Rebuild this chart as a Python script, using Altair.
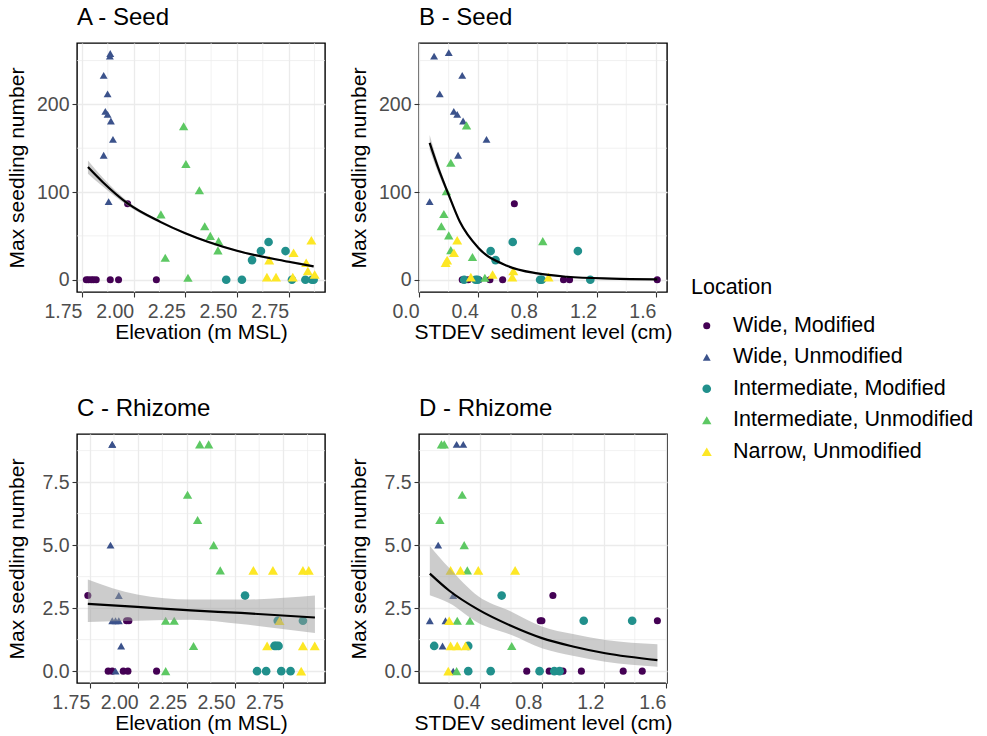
import altair as alt
import pandas as pd

FONT = "Liberation Sans"

groups = ["Wide, Modified", "Wide, Unmodified", "Intermediate, Modified",
          "Intermediate, Unmodified", "Narrow, Unmodified"]
colors = ["#440154", "#3B528B", "#21908C", "#5DC863", "#FDE725"]
shapes = ["circle", "triangle-up", "circle", "triangle-up", "triangle-up"]
point_sizes = [50, 100, 50, 100, 100]

# ---------------- Panel A : Elevation vs seed ----------------
A_X = {
    "Wide, Modified": [1.771, 1.782, 1.795, 1.806, 1.819, 1.887, 1.927, 2.110, 1.971],
    "Wide, Unmodified": [1.887, 1.885, 1.855, 1.874, 1.863, 1.874, 1.890, 1.900, 1.855, 1.879],
    "Intermediate, Modified": [2.653, 2.616, 2.735, 2.573, 2.448, 2.524, 2.766, 2.831, 2.863, 2.871],
    "Intermediate, Unmodified": [2.242, 2.253, 2.318, 2.132, 2.344, 2.371, 2.411, 2.408, 2.153, 2.263],
    "Narrow, Unmodified": [2.860, 2.774, 2.656, 2.835, 2.843, 2.876, 2.645, 2.689, 2.770],
}
A_Y = {
    "Wide, Modified": [0, 0, 0, 0, 0, 0, 0, 0, 86.7],
    "Wide, Unmodified": [258, 255, 233, 212, 192, 188.6, 181, 160, 142, 89],
    "Intermediate, Modified": [43, 32.7, 32.7, 22.4, 0, 0, 0, 0, 0, 0],
    "Intermediate, Unmodified": [175, 132, 102, 74.5, 61, 50, 44, 33.5, 25, 2.3],
    "Narrow, Unmodified": [45, 30.8, 22.4, 19.4, 10, 6, 3, 3, 3],
}
A_FIT_X = [1.779, 1.85, 1.971, 2.129, 2.25, 2.5, 2.75, 2.871]
A_FIT_Y = [128.5, 111.5, 87, 66, 53, 33, 20.5, 15.2]
A_FIT_LO = [121, 106.5, 84.5, 64.5, 51.8, 31.8, 19.3, 14]
A_FIT_HI = [136, 116.5, 89.5, 67.5, 54.2, 34.3, 21.8, 16.5]

# ---------------- Panel B : STDEV sediment vs seed ----------------
B_X = {
    "Wide, Modified": [0.292, 0.332, 0.405, 0.479, 0.565, 0.976, 1.017, 1.609, 0.644],
    "Wide, Unmodified": [0.102, 0.201, 0.292, 0.140, 0.235, 0.258, 0.298, 0.456, 0.264, 0.072],
    "Intermediate, Modified": [0.633, 0.484, 1.073, 0.517, 0.305, 0.382, 0.396, 0.818, 0.829, 1.157],
    "Intermediate, Unmodified": [0.321, 0.215, 0.185, 0.168, 0.151, 0.201, 0.836, 0.215, 0.361, 0.445],
    "Narrow, Unmodified": [0.258, 0.236, 0.190, 0.180, 0.637, 0.497, 0.630, 0.350, 0.875],
}
B_Y = {
    "Wide, Modified": [0, 0, 0, 0, 0, 0, 0, 0, 86.7],
    "Wide, Unmodified": [255, 259, 233, 212, 192, 188.6, 181, 160, 142, 89],
    "Intermediate, Modified": [43, 32.7, 32.7, 22.4, 0, 0, 0, 0, 0, 0],
    "Intermediate, Unmodified": [176, 133.5, 101, 75, 61, 50.6, 44, 33.8, 26, 2.3],
    "Narrow, Unmodified": [45, 30.8, 22.4, 19.4, 10, 6, 3, 3, 3],
}
B_FIT_X = [0.072, 0.129, 0.2, 0.276, 0.4, 0.599, 0.8, 1.0, 1.3, 1.609]
B_FIT_Y = [156, 127.8, 97, 66, 36.5, 15.6, 7.2, 3.4, 1.2, 0.4]
B_FIT_LO = [148, 122, 94, 64.5, 35.5, 15, 6.8, 3.1, 1.0, 0.3]
B_FIT_HI = [165, 133, 100, 67.5, 37.5, 16.2, 7.6, 3.7, 1.4, 0.5]

# ---------------- Panel C : Elevation vs rhizome ----------------
C_X = {
    "Wide, Modified": [1.740, 1.940, 1.952, 1.845, 1.866, 1.923, 1.947, 2.095],
    "Wide, Unmodified": [1.866, 1.866, 1.857, 1.900, 1.866, 1.883, 1.900, 1.912, 1.883],
    "Intermediate, Modified": [2.552, 2.721, 2.851, 2.704, 2.713, 2.725, 2.614, 2.661, 2.739, 2.787],
    "Intermediate, Unmodified": [2.318, 2.364, 2.255, 2.307, 2.390, 2.424, 2.142, 2.186, 2.286, 2.142],
    "Narrow, Unmodified": [2.595, 2.696, 2.851, 2.881, 2.666, 2.851, 2.912, 2.730, 2.842],
}
C_Y = {
    "Wide, Modified": [3, 2, 2, 0, 0, 0, 0, 0],
    "Wide, Unmodified": [9, 9, 5, 3, 2, 2, 2, 1, 0],
    "Intermediate, Modified": [3, 2, 2, 1, 1, 1, 0, 0, 0, 0],
    "Intermediate, Unmodified": [9, 9, 7, 6, 5, 4, 2, 2, 1, 0],
    "Narrow, Unmodified": [4, 4, 4, 4, 1, 1, 1, 2, 0],
}
C_FIT_X = [1.740, 1.995, 2.272, 2.531, 2.913]
C_FIT_Y = [2.67, 2.55, 2.41, 2.31, 2.13]
C_FIT_LO = [1.95, 2.00, 2.04, 1.87, 1.51]
C_FIT_HI = [3.64, 3.04, 2.84, 2.84, 3.00]

# ---------------- Panel D : STDEV sediment vs rhizome ----------------
D_X = {
    "Wide, Modified": [0.871, 0.789, 0.800, 1.546, 0.702, 0.847, 0.936, 1.055, 1.325, 1.448],
    "Wide, Unmodified": [0.249, 0.292, 0.130, 0.227, 0.076, 0.177, 0.158, 0.227],
    "Intermediate, Modified": [0.540, 1.070, 1.383, 0.104, 0.324, 0.324, 0.469, 0.785, 0.880, 0.914],
    "Intermediate, Unmodified": [0.151, 0.169, 0.285, 0.141, 0.298, 0.318, 0.253, 0.335, 0.605, 0.249],
    "Narrow, Unmodified": [0.210, 0.274, 0.389, 0.627, 0.201, 0.210, 0.253, 0.307, 0.195],
}
D_Y = {
    "Wide, Modified": [3, 2, 2, 2, 0, 0, 0, 0, 0, 0],
    "Wide, Unmodified": [9, 9, 5, 3, 2, 2, 1, 0],
    "Intermediate, Modified": [3, 2, 2, 1, 1, 0, 0, 0, 0, 0],
    "Intermediate, Unmodified": [9, 9, 7, 6, 5, 4, 2, 2, 1, 0],
    "Narrow, Unmodified": [4, 4, 4, 4, 2, 1, 1, 1, 0],
}
D_FIT_X = [0.076, 0.2, 0.389, 0.6, 0.8, 1.0, 1.21, 1.546]
D_FIT_Y = [3.87, 3.2, 2.44, 1.8, 1.31, 0.98, 0.71, 0.44]
D_FIT_LO = [3.01, 2.7, 1.91, 1.44, 0.91, 0.61, 0.37, 0.17]
D_FIT_HI = [4.97, 4.1, 2.97, 2.37, 1.77, 1.47, 1.24, 1.07]

# tick values / minor grid
ELEV_TICKS = [1.75, 2.00, 2.25, 2.50, 2.75]
ELEV_MINOR = [1.875, 2.125, 2.375, 2.625, 2.875]
SD_TICKS_B = [0.0, 0.4, 0.8, 1.2, 1.6]
SD_TICKS_D = [0.4, 0.8, 1.2, 1.6]
SD_MINOR = [0.2, 0.6, 1.0, 1.4]
SEED_TICKS = [0, 100, 200]
SEED_MINOR = [50, 150, 250]
RHIZ_TICKS = [0.0, 2.5, 5.0, 7.5]
RHIZ_MINOR = [1.25, 3.75, 6.25, 8.75]


def points_df(xd, yd):
    rows = []
    for g in groups:
        for x, y in zip(xd[g], yd[g]):
            rows.append({"x": x, "y": y, "Location": g})
    return pd.DataFrame(rows)


legend = alt.Legend(
    title="Location", orient="none", legendX=614, legendY=234,
    titleFontSize=21.5, titleFontWeight="normal", titleColor="black",
    labelFontSize=21.5, labelColor="black", labelLimit=600, symbolSize=36,
    symbolOffset=5, labelOffset=15.5, rowPadding=8.5, titlePadding=16.5,
    symbolStrokeWidth=0,
)


def panel(xd, yd, fx, fy, flo, fhi, xdom, ydom, xticks, yticks, xminor, yminor,
          xfmt, yfmt, title, xtitle, ypad):
    xs = alt.Scale(domain=xdom, nice=False, zero=False)
    ys = alt.Scale(domain=ydom, nice=False, zero=False)
    xaxis = alt.Axis(values=xticks, format=xfmt, title=xtitle, labelAlign="right",
                     labelFlush=False, labelOverlap=False, titlePadding=1,
                     labelPadding=5)
    yaxis = alt.Axis(values=yticks, format=yfmt, title="Max seedling number",
                     labelFlush=False, labelOverlap=False, titlePadding=ypad)

    def X(f):
        return alt.X(f, type="quantitative", scale=xs, axis=xaxis)

    def Y(f):
        return alt.Y(f, type="quantitative", scale=ys, axis=yaxis)

    vgrid = alt.Chart(pd.DataFrame({"gx": xminor})).mark_rule(
        color="#EBEBEB", strokeWidth=0.7).encode(x=X("gx"))
    hgrid = alt.Chart(pd.DataFrame({"gy": yminor})).mark_rule(
        color="#EBEBEB", strokeWidth=0.7).encode(y=Y("gy"))
    pts = alt.Chart(points_df(xd, yd)).mark_point(filled=True, opacity=1).encode(
        x=X("x"), y=Y("y"),
        color=alt.Color("Location:N", scale=alt.Scale(domain=groups, range=colors),
                        legend=legend),
        shape=alt.Shape("Location:N", scale=alt.Scale(domain=groups, range=shapes),
                        legend=legend),
        size=alt.Size("Location:N", scale=alt.Scale(domain=groups, range=point_sizes),
                      legend=None),
    )
    fit = pd.DataFrame({"fx": fx, "fy": fy, "lo": flo, "hi": fhi})
    band = alt.Chart(fit).mark_area(color="#999999", opacity=0.5,
                                    interpolate="monotone").encode(
        x=X("fx"), y=Y("lo"), y2=alt.Y2("hi"))
    line = alt.Chart(fit).mark_line(color="black", strokeWidth=2.2,
                                    interpolate="monotone").encode(
        x=X("fx"), y=Y("fy"))
    return alt.layer(vgrid, hgrid, pts, band, line).properties(
        width=248, height=249,
        title=alt.TitleParams(title, anchor="start", frame="group", fontSize=24,
                              fontWeight="normal", color="black", offset=13),
    )


pA = panel(A_X, A_Y, A_FIT_X, A_FIT_Y, A_FIT_LO, A_FIT_HI, [1.726, 2.926], [-14, 270],
           ELEV_TICKS, SEED_TICKS, ELEV_MINOR, SEED_MINOR, ".2f", "d",
           "A - Seed", "Elevation (m MSL)", 9)
pB = panel(B_X, B_Y, B_FIT_X, B_FIT_Y, B_FIT_LO, B_FIT_HI, [0.0, 1.675], [-14, 270],
           SD_TICKS_B, SEED_TICKS, SD_MINOR, SEED_MINOR, ".1f", "d",
           "B - Seed", "STDEV sediment level (cm)", 9)
pC = panel(C_X, C_Y, C_FIT_X, C_FIT_Y, C_FIT_LO, C_FIT_HI, [1.684, 2.965], [-0.47, 9.41],
           ELEV_TICKS, RHIZ_TICKS, ELEV_MINOR, RHIZ_MINOR, ".2f", ".1f",
           "C - Rhizome", "Elevation (m MSL)", 14.5)
pD = panel(D_X, D_Y, D_FIT_X, D_FIT_Y, D_FIT_LO, D_FIT_HI, [0.006, 1.608], [-0.47, 9.41],
           SD_TICKS_D, RHIZ_TICKS, SD_MINOR, RHIZ_MINOR, ".1f", ".1f",
           "D - Rhizome", "STDEV sediment level (cm)", 14.5)

chart = alt.concat(pA, pB, pC, pD, columns=2,
                   spacing={"row": 51, "column": 20}).configure(
    font=FONT, padding={"left": 5, "top": 4, "right": 5, "bottom": 0}
).configure_view(stroke="black", strokeWidth=1.4).configure_axis(
    labelFontSize=19.5, labelColor="#4D4D4D", titleFontSize=21,
    titleFontWeight="normal", titleColor="black", tickColor="#333333",
    tickSize=5, tickWidth=1.1, domain=False, gridColor="#EBEBEB",
    gridWidth=1.3, labelPadding=3,
)

chart.save("out.html", embed_options={"renderer": "svg", "actions": False})
